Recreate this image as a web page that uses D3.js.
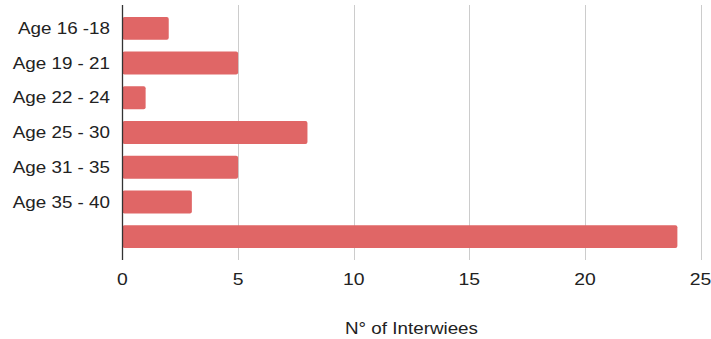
<!DOCTYPE html>
<html><head><meta charset="utf-8">
<script src="https://cdn.jsdelivr.net/npm/d3@7"></script>
<style>body{margin:0;background:#fff}svg{display:block}</style>
</head><body>
<svg id="c" width="711" height="339"></svg>
<script>
const categories = ["Age 16 -18","Age 19 - 21","Age 22 - 24","Age 25 - 30","Age 31 - 35","Age 35 - 40",""];
const values = [2,5,1,8,5,3,24];
const xTicks = [0,5,10,15,20,25];
const xTitle = "N° of Interwiees";

const svg = d3.select("#c");
const font = "Arial, 'Liberation Sans', sans-serif";
const SX = 1.14;
const x = d3.scaleLinear().domain([0,25]).range([122.5,700.5]);
const y = d3.scaleBand().domain(d3.range(categories.length)).range([11,254]).paddingInner(0.34).paddingOuter(0.17);

// gridlines
svg.append("g").selectAll("line").data(xTicks.filter(d=>d>0)).join("line")
  .attr("x1",d=>Math.round(x(d))+0.5).attr("x2",d=>Math.round(x(d))+0.5)
  .attr("y1",5).attr("y2",260).attr("stroke","#cccccc").attr("stroke-width",1);

// bars
svg.append("g").selectAll("rect").data(values).join("rect")
  .attr("x",x(0)).attr("y",(d,i)=>y(i)).attr("width",d=>x(d)-x(0)).attr("height",y.bandwidth())
  .attr("rx",2).attr("fill","#e06666");

// zero axis
svg.append("line").attr("x1",x(0)).attr("x2",x(0)).attr("y1",5).attr("y2",260)
  .attr("stroke","#333333").attr("stroke-width",1.3);

// x tick labels
svg.append("g").selectAll("text").data(xTicks).join("text")
  .attr("transform",d=>`translate(${x(d)},285) scale(${SX},1)`)
  .attr("text-anchor","middle").attr("font-family",font).attr("font-size",17).attr("fill","#222")
  .text(d=>d3.format("d")(d));

// y labels
svg.append("g").selectAll("text").data(categories).join("text")
  .attr("transform",(d,i)=>`translate(110,${y(i)+y.bandwidth()/2}) scale(${SX},1)`)
  .attr("dy","0.34em").attr("text-anchor","end").attr("font-family",font).attr("font-size",16.5).attr("fill","#222")
  .text(d=>d);

svg.append("text").attr("transform",`translate(${(x(0)+x(25))/2},334) scale(${SX},1)`).attr("text-anchor","middle")
  .attr("font-family",font).attr("font-size",16.5).attr("fill","#222").text(xTitle);
</script>
</body></html>
